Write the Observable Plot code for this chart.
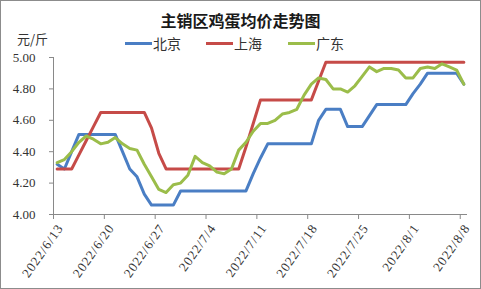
<!DOCTYPE html>
<html><head><meta charset="utf-8">
<script src="https://cdn.jsdelivr.net/npm/d3@7"></script>
<script src="https://cdn.jsdelivr.net/npm/@observablehq/plot@0.6"></script>
<style>
html,body{margin:0;padding:0;background:#fff;}
#wrap{position:relative;width:481px;height:289px;overflow:hidden;background:#fff;font-family:"Noto Sans CJK SC",sans-serif;}
#frame{position:absolute;left:0;top:0;width:481px;height:289px;box-sizing:border-box;border:1px solid #8c8c8c;pointer-events:none;}
#title{position:absolute;left:0;width:481px;top:9px;text-align:center;font-size:16px;font-weight:bold;color:#1a1a1a;line-height:22px;}
#unit{position:absolute;left:17px;top:30px;font-size:13px;color:#333;line-height:18px;}
.leg{position:absolute;top:33px;font-size:14px;color:#333;line-height:20px;display:flex;align-items:center;}
.leg span.sw{display:inline-block;width:27px;height:3px;margin-right:1px;}
#chart{position:absolute;left:0;top:50px;}
</style></head>
<body>
<div id="wrap">
  <div id="title">主销区鸡蛋均价走势图</div>
  <div id="unit">元/斤</div>
  <div id="legend"></div>
  <div id="chart"></div>
  <div id="frame"></div>
</div>
<script>
// ---- data ----
const seriesNames = ["北京", "上海", "广东"];
const seriesColors = ["#4a7ec4", "#c64b48", "#9bbd4a"];
const startDate = "2022-06-13";
const endDate = "2022-08-08";
const beijing = [4.32,4.29,4.40,4.51,4.51,4.51,4.51,4.51,4.51,4.40,4.29,4.24,4.13,4.06,4.06,4.06,4.06,
  4.15,4.15,4.15,4.15,4.15,4.15,4.15,4.15,4.15,4.15,4.26,4.36,4.45,4.45,4.45,4.45,4.45,4.45,4.45,
  4.60,4.67,4.67,4.67,4.56,4.56,4.56,4.63,4.70,4.70,4.70,4.70,4.70,4.77,4.83,4.90,4.90,4.90,4.90,4.90,4.83];
const shanghai = [4.29,4.29,4.29,4.38,4.47,4.56,4.65,4.65,4.65,4.65,4.65,4.65,4.65,4.55,4.39,
  4.29,4.29,4.29,4.29,4.29,4.29,4.29,4.29,4.29,4.29,4.29,4.43,4.58,4.73,4.73,4.73,4.73,4.73,4.73,4.73,4.73,
  4.85,4.97,4.97,4.97,4.97,4.97,4.97,4.97,4.97,4.97,4.97,4.97,4.97,4.97,4.97,4.97,4.97,4.97,4.97,4.97,4.97];
const guangdong = [4.33,4.35,4.40,4.46,4.50,4.48,4.45,4.46,4.49,4.45,4.42,4.41,4.32,4.24,4.16,4.14,4.19,4.20,4.25,4.37,
  4.33,4.31,4.27,4.26,4.29,4.41,4.46,4.53,4.58,4.58,4.60,4.64,4.65,4.67,4.76,4.83,4.87,4.86,4.80,4.80,
  4.78,4.82,4.88,4.94,4.91,4.93,4.93,4.92,4.87,4.87,4.93,4.94,4.93,4.96,4.94,4.92,4.83];
const yTicks = [4.0, 4.2, 4.4, 4.6, 4.8, 5.0];
const xTickLabels = ["2022/6/13","2022/6/20","2022/6/27","2022/7/4","2022/7/11","2022/7/18","2022/7/25","2022/8/1","2022/8/8"];

// ---- build ----
const parse = d3.utcParse("%Y-%m-%d");
const days = d3.utcDay.range(parse(startDate), d3.utcDay.offset(parse(endDate), 1));
const valuesBySeries = [beijing, shanghai, guangdong];
const rows = [];
seriesNames.forEach((s, i) => valuesBySeries[i].forEach((v, j) => rows.push({series: s, date: days[j], value: v})));
const parseTick = d3.utcParse("%Y/%m/%d");
const xTicks = xTickLabels.map((t, i) => ({date: parseTick(t), label: t}));
const HALF_DAY = 12 * 3600 * 1000;

const legend = document.getElementById("legend");
const legX = [125, 206, 288];
seriesNames.forEach((s, i) => {
  const el = document.createElement("div");
  el.className = "leg";
  el.style.left = legX[i] + "px";
  el.innerHTML = `<span class="sw" style="background:${seriesColors[i]}"></span>${s}`;
  legend.appendChild(el);
});

const x0 = parse(startDate), x1 = d3.utcDay.offset(parse(endDate), 1);
const chart = Plot.plot({
  width: 481,
  height: 239,
  marginTop: 7,
  marginBottom: 75,
  marginLeft: 53,
  marginRight: 14,
  style: {fontFamily: "'Liberation Serif', 'DejaVu Serif', serif", fontSize: "12px", color: "#333", background: "transparent", overflow: "visible"},
  x: {type: "utc", domain: [x0, x1]},
  y: {domain: [4, 5]},
  color: {domain: seriesNames, range: seriesColors},
  marks: [
    Plot.ruleX([x0], {stroke: "#898989", strokeWidth: 1}),
    Plot.ruleY([4], {stroke: "#898989", strokeWidth: 1}),
    Plot.axisY({ticks: yTicks, tickFormat: d => d.toFixed(2), tickSize: 4, tickPadding: 14, stroke: "#898989", fill: "#333", fontSize: 13, label: null}),
    Plot.axisX({ticks: xTicks.map(d => d.date), tickFormat: () => "", tickSize: 5, stroke: "#898989", label: null}),
    Plot.text(xTicks, {x: "date", frameAnchor: "bottom", text: "label", rotate: -55, textAnchor: "end", lineAnchor: "middle", dx: 7, dy: 11, fontSize: 13, fill: "#333", style: "letter-spacing:1px"}),
    Plot.line(rows, {x: d => new Date(+d.date + HALF_DAY), y: "value", z: "series", stroke: "series", strokeWidth: 3, strokeLinejoin: "round", curve: "linear"})
  ]
});
chart.querySelectorAll("text").forEach(t => { if (/^\d{4}\//.test(t.textContent)) t.style.letterSpacing = "1px"; });
document.getElementById("chart").appendChild(chart);
</script>
</body></html>
